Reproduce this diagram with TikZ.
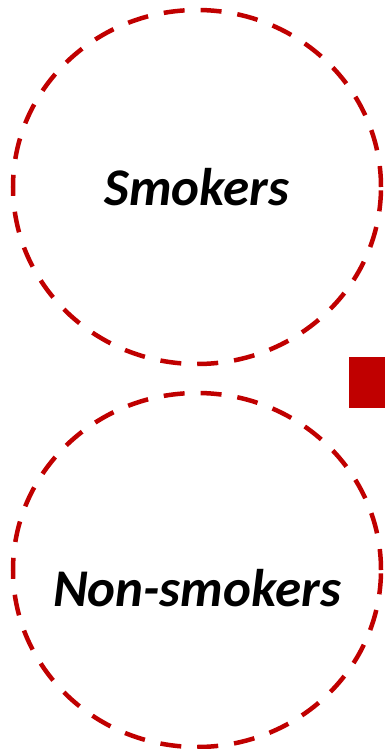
\documentclass[tikz,border=0pt]{standalone}
\usepackage{fontspec}
\setmainfont{Carlito}
\usetikzlibrary{shapes.geometric}
\definecolor{darkred}{HTML}{C00000}
\begin{document}
\begin{tikzpicture}[x=1pt, y=-1pt,
      every node/.style={font=\fontsize{53}{60}\selectfont\bfseries\itshape},
      group/.style={ellipse, draw=darkred, line width=4.5pt,
        dash pattern=on 21pt off 16pt, inner sep=0pt,
        minimum width=368pt, minimum height=354pt},
      marker/.style={fill=darkred, inner sep=0pt, minimum size=51pt},
    ]
    \useasboundingbox (0,0) rectangle (385,749);
    \clip (0,0) rectangle (385,749);

    \node[group] (smokers)    at (197, 187) {};
    \node[group] (nonsmokers) at (197, 570) {};
    \node (smokerslabel)    at (smokers.center)    {Smokers};
    \node (nonsmokerslabel) at ([yshift=-18pt]nonsmokers.center) {Non-smokers};

    % legend mark, cut by the right edge
    \node[marker] (mark) at (374.5, 382.5) {};
  \end{tikzpicture}
\end{document}
